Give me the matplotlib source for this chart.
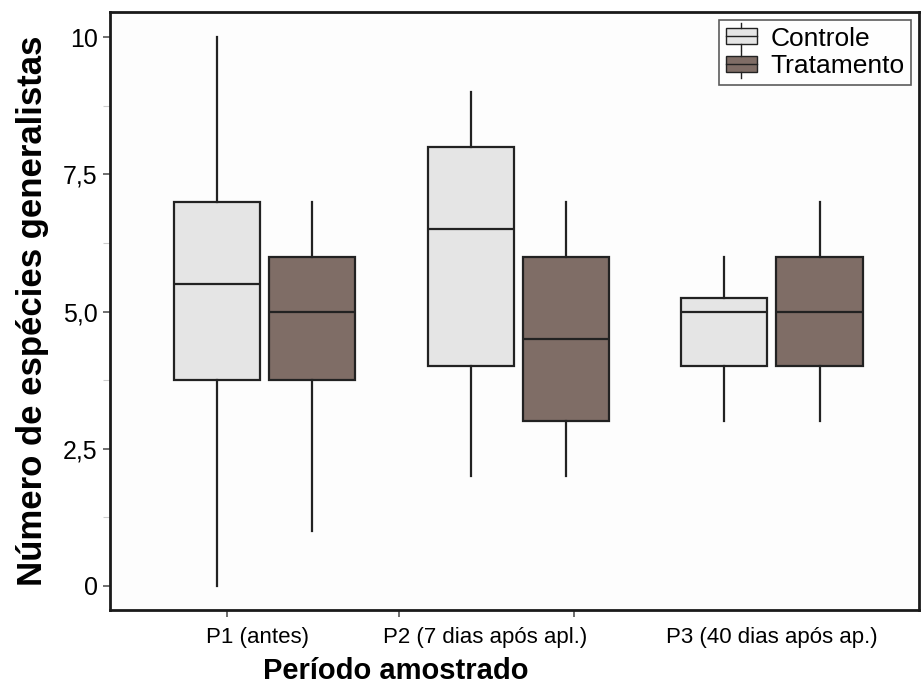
import numpy as np
import matplotlib.pyplot as plt
from matplotlib.legend_handler import HandlerBase
from matplotlib.patches import Rectangle
from matplotlib.lines import Line2D

# Period labels and box statistics (whisker low, Q1, median, Q3, whisker high)
periods = ['P1 (antes)', 'P2 (7 dias após apl.)', 'P3 (40 dias após ap.)']
controle_stats = [
    [0, 3.75, 5.5, 7, 10],
    [2, 4, 6.5, 8, 9],
    [3, 4, 5, 5.25, 6],
]
tratamento_stats = [
    [1, 3.75, 5, 6, 7],
    [2, 3, 4.5, 6, 7],
    [3, 4, 5, 6, 7],
]
yticks = [0, 2.5, 5, 7.5, 10]
ytick_labels = ['0', '2,5', '5,0', '7,5', '10']

col_ctrl = '#e5e5e5'
col_trat = '#7f6d66'
edge = '#222222'

plt.rcParams['font.family'] = ['Liberation Sans', 'DejaVu Sans']


def to_bxp(rows):
    out = []
    for lo, q1, med, q3, hi in rows:
        out.append(dict(whislo=lo, q1=q1, med=med, q3=q3, whishi=hi, fliers=[]))
    return out


fig = plt.figure(figsize=(9.21, 6.94), dpi=100)
ax = fig.add_axes([110 / 921, 84 / 694, 809 / 921, 598 / 694])
ax.set_facecolor('#fdfdfd')

x = np.arange(len(periods))
width = 0.34
offset = 0.188

for stats, pos, col in [(controle_stats, x - offset, col_ctrl),
                        (tratamento_stats, x + offset, col_trat)]:
    ax.bxp(to_bxp(stats), positions=pos, widths=width, patch_artist=True,
           showcaps=False, showfliers=False,
           boxprops=dict(facecolor=col, edgecolor=edge, linewidth=1.6),
           whiskerprops=dict(color=edge, linewidth=1.6),
           medianprops=dict(color=edge, linewidth=1.6))

ax.set_xlim(-0.61, 2.58)
ax.set_ylim(-0.44, 10.46)

# tick marks sit apart from the labels, as in the original
ax.set_xticks([-0.15, 0.53, 1.22])
ax.set_xticklabels([])
ax.set_xticks([-0.03, 0.87, 2.0], minor=True)
ax.set_xticklabels(periods, minor=True, fontsize=16)
ax.tick_params(axis='x', which='major', length=5, width=1.2, color='#555555')
ax.tick_params(axis='x', which='minor', length=0, pad=12)

ax.set_yticks(yticks)
ax.set_yticklabels(ytick_labels, fontsize=18)
ax.set_yticks(np.arange(1.25, 10, 2.5), minor=True)
ax.tick_params(axis='y', which='major', length=5, width=1.2, color='#555555', pad=4)
ax.tick_params(axis='y', which='minor', length=5, width=0.8, color='#cccccc')

for s in ax.spines.values():
    s.set_linewidth(2)
    s.set_color('#1a1a1a')

ax.set_ylabel('Número de espécies generalistas', fontsize=25, fontweight='bold', labelpad=10)
ax.set_xlabel('Período amostrado', fontsize=21, fontweight='bold')
ax.xaxis.set_label_coords((396 - 110) / 809, -0.078)


class BoxHandler(HandlerBase):
    def create_artists(self, legend, orig_handle, xdescent, ydescent,
                       width, height, fontsize, trans):
        fc = orig_handle.get_facecolor()
        bw = width
        bx = -xdescent
        bh = height * 0.85
        by = (height - bh) / 2 - ydescent
        rect = Rectangle((bx, by), bw, bh, facecolor=fc, edgecolor=edge,
                         linewidth=1.0, transform=trans)
        cx = bx + bw / 2
        med = Line2D([bx, bx + bw], [by + bh / 2] * 2, color=edge, lw=1.0, transform=trans)
        top = Line2D([cx, cx], [by + bh, by + bh + height * 0.3], color=edge, lw=1.0, transform=trans)
        bot = Line2D([cx, cx], [by, by - height * 0.3], color=edge, lw=1.0, transform=trans)
        return [rect, med, top, bot]


handles = [Rectangle((0, 0), 1, 1, facecolor=col_ctrl), Rectangle((0, 0), 1, 1, facecolor=col_trat)]
leg = ax.legend(handles, ['Controle', 'Tratamento'], loc='upper right',
                handler_map={Rectangle: BoxHandler()}, fontsize=19,
                frameon=True, fancybox=False, borderpad=0.25, labelspacing=0.15,
                handlelength=1.2, handletextpad=0.5, borderaxespad=0.3)
leg.get_frame().set_edgecolor('#333333')
leg.get_frame().set_linewidth(1.2)

fig.savefig('out.png', dpi=100, facecolor='white')
